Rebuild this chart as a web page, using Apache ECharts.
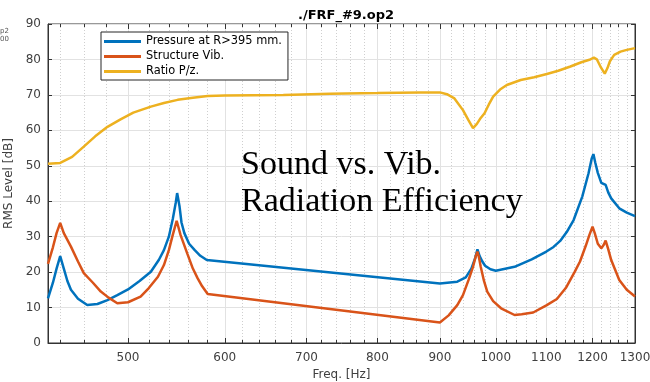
<!DOCTYPE html>
<html>
<head>
<meta charset="utf-8">
<script src="https://cdn.jsdelivr.net/npm/echarts@6/dist/echarts.min.js"></script>
<style>
html, body { margin: 0; padding: 0; background: #fff; }
#main { width: 650px; height: 382px; }
</style>
</head>
<body>
<div id="main"></div>
<script>
// values (frequency in Hz, level in dB)
var pressureFreq = [430, 434, 437, 440, 443, 446, 449, 455, 463, 472, 481, 490, 500, 511, 522, 530, 535, 540, 544, 547, 548.5, 551, 553, 556, 561, 567, 573, 580, 900, 930, 945, 955, 962, 966, 970, 975, 980, 990, 1000, 1036, 1070, 1100, 1115, 1129, 1143, 1158, 1177, 1191, 1198, 1202, 1206, 1212, 1220, 1230, 1236, 1243, 1262, 1280, 1300];
var pressureDb = [12.6, 17, 21, 24.5, 21, 17.5, 15, 12.5, 10.7, 11, 12.1, 13.5, 15.1, 17.5, 20.1, 23.5, 26.2, 30, 35, 39.5, 42.3, 38.5, 34, 31, 28, 26.2, 24.6, 23.4, 16.8, 17.3, 18.5, 21, 24, 26.4, 24.5, 23, 21.8, 20.8, 20.4, 21.5, 23.6, 25.8, 27.1, 28.8, 31.3, 34.7, 41.3, 47.9, 52, 53.3, 51, 48, 45.2, 44.6, 42.5, 40.8, 38, 36.8, 35.8];

var structFreq = [430, 434, 437, 440, 443, 449, 455, 460, 468, 475, 482, 490, 500, 512, 520, 529, 535, 540, 544, 548, 552, 559, 565, 570, 575, 581, 900, 915, 930, 940, 950, 958, 963, 966, 969, 972, 978, 984, 995, 1010, 1036, 1050, 1073, 1100, 1122, 1141, 1160, 1172, 1185, 1193, 1200, 1205, 1212, 1220, 1226, 1230, 1236, 1243, 1262, 1280, 1300];
var structDb = [22.3, 27, 31, 33.9, 31, 27.2, 23, 19.7, 17, 14.5, 12.8, 11.2, 11.5, 13.1, 15.5, 18.7, 22, 26.2, 30.5, 34.5, 30.5, 25.3, 21, 18.3, 16, 13.8, 5.8, 7.8, 10.7, 13.5, 17.8, 21.5, 24.5, 25.8, 24, 21.5, 17.5, 14.5, 11.8, 9.8, 7.9, 8.1, 8.6, 10.6, 12.4, 15.5, 20, 23, 27.5, 30.5, 32.8, 31, 28, 26.7, 27.8, 28.9, 26.5, 23.4, 17.8, 15, 13.1];

var ratioFreq = [430, 440, 450, 460, 470, 481, 493, 505, 522, 535, 549, 565, 581, 600, 670, 732, 800, 867, 900, 912, 925, 940, 950, 958, 965, 972, 979, 987, 995, 1008, 1021, 1048, 1075, 1101, 1125, 1151, 1175, 1193, 1203, 1210, 1218, 1228, 1234, 1240, 1250, 1265, 1280, 1300];
var ratioDb = [50.6, 50.8, 52.5, 55.4, 58.3, 61, 63.1, 65, 66.7, 67.7, 68.6, 69.2, 69.7, 69.8, 70, 70.3, 70.5, 70.7, 70.7, 70.2, 69, 65.7, 62.8, 60.6, 61.8, 63.5, 64.8, 67.3, 69.5, 71.5, 72.8, 74.2, 75, 75.9, 76.8, 78, 79.2, 79.9, 80.5, 80, 78, 76, 77.5, 79.5, 81.3, 82.2, 82.7, 83.2];

var seriesNames = ['Pressure at R>395 mm.', 'Structure Vib.', 'Ratio P/z.'];
var seriesColors = ['#0072BD', '#D95319', '#EDB120'];

var majorTicks = [500, 600, 700, 800, 900, 1000, 1100, 1200, 1300];
var minorTicks = [];
for (var f = 440; f < 1300; f += 20) {
    if (f % 100 !== 0) minorTicks.push(f);
}
var freqMin = 430, freqMax = 1300;

// x axis is logarithmic: plot against log10(f)
function lg(v) { return Math.log10(v); }
function pairs(freq, vals) {
    return freq.map(function (f, i) { return [lg(f), vals[i]]; });
}

var myChart = echarts.init(document.getElementById('main'));

var axisColor = '#333';
var labelColor = '#404040';
var font = 'DejaVu Sans';

function xAxisBase(pos) {
    return {
        type: 'value',
        position: pos,
        min: lg(freqMin),
        max: lg(freqMax),
        axisLine: { show: false },
        axisLabel: { show: false },
        splitLine: { show: false },
        axisTick: { show: true, inside: true, length: 5, lineStyle: { color: axisColor } }
    };
}

var xMain = xAxisBase('bottom');
xMain.axisLine = { show: true, lineStyle: { color: axisColor } };
xMain.axisTick.customValues = majorTicks.map(lg);
xMain.axisLabel = {
    show: true,
    customValues: majorTicks.map(lg),
    formatter: function (v) { return Math.round(Math.pow(10, v)); },
    color: labelColor, fontSize: 12, fontFamily: font, margin: 9
};
xMain.splitLine = { show: true, lineStyle: { color: '#e2e2e2', width: 1 } };
xMain.name = 'Freq. [Hz]';
xMain.nameLocation = 'middle';
xMain.nameGap = 24;
xMain.nameTextStyle = { color: labelColor, fontSize: 12, fontFamily: font };

var xMinor = xAxisBase('bottom');
xMinor.axisTick.customValues = minorTicks.map(lg);
xMinor.axisTick.length = 3;
xMinor.splitLine = { show: true, lineStyle: { color: '#cfcfcf', width: 1, type: [1, 2] } };

var xTop = xAxisBase('top');
xTop.axisTick.customValues = majorTicks.map(lg);

var xTopMinor = xAxisBase('top');
xTopMinor.axisTick.customValues = minorTicks.map(lg);
xTopMinor.axisTick.length = 3;

var option = {
    animation: false,
    backgroundColor: '#fff',
    title: {
        text: './FRF_#9.op2',
        left: 341,
        top: 4,
        textAlign: 'center',
        textStyle: { fontSize: 13, fontWeight: 'bold', fontFamily: font, color: '#000' }
    },
    legend: {
        data: seriesNames,
        orient: 'vertical',
        left: 101,
        top: 32,
        icon: 'path://M0,0 L37,0 L37,3 L0,3 Z',
        itemWidth: 37,
        itemHeight: 12,
        itemGap: 4,
        padding: [4, 6, 3, 3],
        backgroundColor: '#fff',
        borderColor: '#262626',
        borderWidth: 1,
        borderRadius: 0,
        textStyle: { fontSize: 11.4, fontFamily: font, color: '#000' }
    },
    grid: {
        left: 48, right: 15, top: 24, bottom: 39,
        outerBoundsMode: 'none',
        show: true, borderColor: axisColor, borderWidth: 1
    },
    xAxis: [xMain, xMinor, xTop, xTopMinor],
    yAxis: [{
        type: 'value',
        min: 0, max: 90, interval: 10,
        position: 'left',
        name: 'RMS Level [dB]',
        nameLocation: 'middle',
        nameGap: 24,
        nameTextStyle: { color: labelColor, fontSize: 12, fontFamily: font },
        axisLine: { show: true, lineStyle: { color: axisColor } },
        axisTick: { show: true, inside: true, length: 4, lineStyle: { color: axisColor } },
        axisLabel: { color: labelColor, fontSize: 12, fontFamily: font, margin: 7 },
        splitLine: { show: true, lineStyle: { color: '#e2e2e2', width: 1 } }
    }, {
        type: 'value',
        min: 0, max: 90, interval: 10,
        position: 'right',
        axisLine: { show: true, lineStyle: { color: axisColor } },
        axisTick: { show: true, inside: true, length: 4, lineStyle: { color: axisColor } },
        axisLabel: { show: false },
        splitLine: { show: false }
    }],
    graphic: [{
        type: 'text',
        left: 241,
        top: 147,
        z: 100,
        style: {
            text: 'Sound vs. Vib.\nRadiation Efficiency',
            font: '34px "Liberation Serif"',
            lineHeight: 37,
            fill: '#000'
        }
    }, {
        type: 'text',
        left: 0,
        top: 27,
        style: { text: 'p2\n00', font: '7px "DejaVu Sans"', lineHeight: 8, fill: '#555' }
    }],
    series: [{
        name: seriesNames[0],
        type: 'line',
        data: pairs(pressureFreq, pressureDb),
        symbol: 'none',
        color: seriesColors[0],
        lineStyle: { width: 2.5, color: seriesColors[0] }
    }, {
        name: seriesNames[1],
        type: 'line',
        data: pairs(structFreq, structDb),
        symbol: 'none',
        color: seriesColors[1],
        lineStyle: { width: 2.5, color: seriesColors[1] }
    }, {
        name: seriesNames[2],
        type: 'line',
        data: pairs(ratioFreq, ratioDb),
        symbol: 'none',
        color: seriesColors[2],
        lineStyle: { width: 2.5, color: seriesColors[2] }
    }]
};

myChart.setOption(option);
</script>
</body>
</html>
